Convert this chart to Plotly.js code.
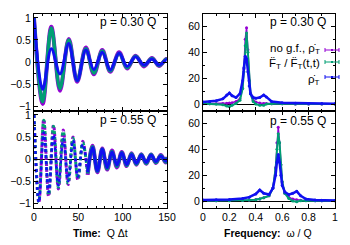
<!DOCTYPE html>
<html><head><meta charset="utf-8">
<script src="https://cdn.plot.ly/plotly-3.0.1.min.js"></script>
<style>html,body{margin:0;padding:0;background:#fff}#c{width:350px;height:245px}</style>
</head><body><div id="c"></div>
<script>
// ---- data: time domain, p = 0.30 Q (extrema) ----
const tA = [0, 9.8, 19.5, 29.3, 39.2, 48.7, 58.5, 67.5, 77, 86, 96, 105, 114.5, 124, 133, 141, 149, 150];
const magA = [1, -0.95, 0.8, -0.65, 0.52, -0.45, 0.33, -0.28, 0.27, -0.22, 0.22, -0.15, 0.14, -0.1, 0.09, -0.09, 0.07, 0.06];
const grnA = [1, -0.9, 0.77, -0.6, 0.5, -0.42, 0.3, -0.25, 0.25, -0.2, 0.2, -0.13, 0.13, -0.08, 0.08, -0.08, 0.06, 0.05];
const bluA = [1, -0.62, 0.3, -0.27, 0.42, -0.42, 0.27, -0.17, 0.22, -0.18, 0.2, -0.1, 0.12, -0.07, 0.07, -0.07, 0.05, 0.04];
// ---- data: time domain, p = 0.55 Q ----
const tB = [0, 5.5, 11, 16.5, 22, 27.5, 33, 38.5, 44, 49.5, 55, 60.5, 66, 71.5, 77, 82.5, 88, 93.5, 99, 104.5, 110, 115.5, 121, 126.5, 132, 137.5, 143, 148.5, 150];
const magB = [1, -1.0, 0.9, -0.85, 0.77, -0.68, 0.66, -0.58, 0.5, -0.48, 0.4, -0.36, 0.3, -0.3, 0.24, -0.24, 0.19, -0.19, 0.16, -0.16, 0.13, -0.13, 0.11, -0.11, 0.1, -0.09, 0.09, -0.08, 0.05];
const grnB = [1, -0.97, 0.88, -0.82, 0.74, -0.64, 0.63, -0.55, 0.47, -0.45, 0.37, -0.33, 0.28, -0.28, 0.22, -0.22, 0.17, -0.17, 0.15, -0.15, 0.12, -0.12, 0.1, -0.1, 0.1, -0.08, 0.08, -0.07, 0.04];
const bluB = [1, -0.98, 0.6, -0.75, 0.55, -0.6, 0.45, -0.5, 0.42, -0.4, 0.33, -0.3, 0.26, -0.27, 0.22, -0.2, 0.16, -0.14, 0.14, -0.13, 0.1, -0.1, 0.09, -0.08, 0.09, -0.06, 0.07, -0.05, 0.03];
// ---- data: spectra, p = 0.30 Q ----
const wA = [0, 0.05, 0.1, 0.15, 0.18, 0.2, 0.22, 0.25, 0.28, 0.3, 0.31, 0.32, 0.33, 0.34, 0.35, 0.36, 0.38, 0.4, 0.43, 0.46, 0.48, 0.52, 0.6, 0.7, 0.8, 0.9, 1.0];
const sMagA = [0.3, 0.3, 0.3, 0.5, 0.6, 0.8, 1, 2, 4, 12, 27, 50, 59, 42, 18, 8, 3, 1.5, 0.8, 0.5, 0.4, 0.3, 0.2, 0.1, 0, 0, 0];
const sGrnA = [0.5, 0.3, 0, -0.5, -1.5, -2, -1, 0.5, 3, 12, 25, 45, 55, 40, 18, 8, 2, 0, -1, -1, 0, 0.3, 0.2, 0.1, 0, 0, 0];
const sBluA = [1.5, 1.8, 2.5, 4, 7, 8.5, 6.5, 5, 8, 18, 28, 37, 35, 25, 14, 8, 5, 4.5, 5, 7, 5.5, 2, 1, 0.7, 0.5, 0.4, 0.3];
// ---- data: spectra, p = 0.55 Q ----
const wB = [0, 0.1, 0.2, 0.3, 0.35, 0.4, 0.43, 0.46, 0.5, 0.53, 0.55, 0.56, 0.57, 0.58, 0.59, 0.6, 0.62, 0.65, 0.68, 0.71, 0.74, 0.78, 0.85, 0.9, 1.0];
const sMagB = [0.3, 0.3, 0.4, 0.6, 0.8, 1.2, 1.6, 2.5, 4, 10, 26, 45, 57, 45, 28, 15, 6, 3, 1.5, 1, 0.7, 0.5, 0.3, 0.2, 0.2];
const sGrnB = [0.3, 0.3, 0.3, 0.5, 0.8, 1, 1.5, 2.5, 4, 10, 25, 40, 52, 45, 28, 15, 6, 2, 0, -0.5, 0.2, 0.3, 0.2, 0.2, 0.2];
const sBluB = [0.8, 1, 1.2, 2, 3, 5.5, 8.5, 6, 5, 10, 20, 30, 36, 30, 20, 12, 7, 5, 6, 7.5, 4, 1.5, 0.8, 0.6, 0.5];
// ---- labels ----
const panelLabels = ["p = 0.30 Q", "p = 0.55 Q"];
const legendNames = ["no g.f., \u03c1\u0307<sub>T</sub>", "F\u0308<sub>T</sub> / F\u0308<sub>T</sub>(t,t)", "\u03c1\u0307<sub>T</sub>"];
const xTitleL = "<b>Time:</b>  Q \u0394t";
const xTitleR = "<b>Frequency:</b>  \u03c9 / Q";

const cMag = "#9400d3", cGrn = "#009e73", cBlu = "#1010f0";
const W = 350, H = 245;
const px = x => x / W, py = y => 1 - y / H;
const SPLIT = 12; // early (scattered-looking) part of p = 0.55 Q series

function tl(x, y, xa, ya, c, w, dash) {
  return {x, y, xaxis: xa, yaxis: ya, mode: "lines", line: {color: c, width: w, shape: "spline", smoothing: 1, dash: dash || "solid"}, showlegend: false, hoverinfo: "skip"};
}
function sp(x, y, xa, ya, c, w, ms) {
  return {x, y, xaxis: xa, yaxis: ya, mode: "lines+markers", line: {color: c, width: w}, marker: {color: c, size: ms}, showlegend: false, hoverinfo: "skip"};
}
const early = a => a.slice(0, SPLIT), late = a => a.slice(SPLIT - 1);
const traces = [
  tl(tA, magA, "x", "y", cMag, 4), tl(tA, grnA, "x", "y", cGrn, 3.5), tl(tA, bluA, "x", "y", cBlu, 3),
  tl(early(tB), early(magB), "x2", "y2", cMag, 3, "dot"), tl(early(tB), early(grnB), "x2", "y2", cGrn, 3, "dot"), tl(early(tB), early(bluB), "x2", "y2", cBlu, 2.5, "dot"),
  tl(late(tB), late(magB), "x2", "y2", cMag, 4), tl(late(tB), late(grnB), "x2", "y2", cGrn, 3.5), tl(late(tB), late(bluB), "x2", "y2", cBlu, 3),
  sp(wA, sMagA, "x3", "y3", cMag, 1.5, 3), sp(wA, sGrnA, "x3", "y3", cGrn, 2, 3), sp(wA, sBluA, "x3", "y3", cBlu, 2.5, 3),
  sp(wB, sMagB, "x4", "y4", cMag, 1.5, 3), sp(wB, sGrnB, "x4", "y4", cGrn, 2, 3), sp(wB, sBluB, "x4", "y4", cBlu, 2.5, 3)
];

const fnt = {family: "Liberation Sans, Arial, sans-serif", size: 11, color: "#000"};
const fntL = {family: "Liberation Sans, Arial, sans-serif", size: 12, color: "#000"};
const fntG = {family: "Liberation Sans, Arial, sans-serif", size: 11.5, color: "#000"};
function ax(dom, range, dtick, mdtick, showlab, anchor, zl) {
  return {domain: dom, range, dtick, tick0: 0, anchor, showticklabels: showlab, ticks: "inside", ticklen: 4, tickwidth: 1, tickcolor: "#000",
    minor: {ticks: "inside", ticklen: 2, dtick: mdtick, tickcolor: "#000"},
    showline: true, linecolor: "#000", linewidth: 1, mirror: "ticks", showgrid: false, zeroline: zl, zerolinecolor: "#000", zerolinewidth: 1,
    tickfont: {family: fnt.family, size: 10.5, color: "#000"}, fixedrange: true};
}
const dxL = [px(34), px(167)], dxR = [px(203), px(335)];
const dyT = [py(110.5), py(13.5)], dyB = [py(207.5), py(110.5)];

const layout = {
  width: W, height: H, margin: {l: 0, r: 0, t: 0, b: 0}, paper_bgcolor: "#fff", plot_bgcolor: "#fff", font: fnt,
  xaxis: ax(dxL, [0, 150], 50, 10, false, "y", false),
  yaxis: ax(dyT, [-1.1, 1.1], 0.5, 0.25, true, "x", true),
  xaxis2: ax(dxL, [0, 150], 50, 10, true, "y2", false),
  yaxis2: ax(dyB, [-1.1, 1.1], 0.5, 0.25, true, "x2", true),
  xaxis3: ax(dxR, [0, 1], 0.2, 0.1, false, "y3", false),
  yaxis3: ax(dyT, [-5, 70], 20, 10, true, "x3", true),
  xaxis4: ax(dxR, [0, 1], 0.2, 0.1, true, "y4", false),
  yaxis4: ax(dyB, [-5, 70], 20, 10, true, "x4", true),
  annotations: [
    {xref: "paper", yref: "paper", x: px(158), y: py(22.5), text: panelLabels[0], showarrow: false, xanchor: "right", yanchor: "middle", font: fntL},
    {xref: "paper", yref: "paper", x: px(158), y: py(120), text: panelLabels[1], showarrow: false, xanchor: "right", yanchor: "middle", font: fntL},
    {xref: "paper", yref: "paper", x: px(328), y: py(22.5), text: panelLabels[0], showarrow: false, xanchor: "right", yanchor: "middle", font: fntL},
    {xref: "paper", yref: "paper", x: px(328), y: py(121), text: panelLabels[1], showarrow: false, xanchor: "right", yanchor: "middle", font: fntL},
    {xref: "paper", yref: "paper", x: px(100), y: py(233), text: xTitleL, showarrow: false, xanchor: "center", yanchor: "middle", font: {family: fnt.family, size: 10.5, color: "#000"}},
    {xref: "paper", yref: "paper", x: px(268), y: py(233), text: xTitleR, showarrow: false, xanchor: "center", yanchor: "middle", font: {family: fnt.family, size: 10.5, color: "#000"}},
    {xref: "paper", yref: "paper", x: px(322), y: py(49.5), text: legendNames[0], showarrow: false, xanchor: "right", yanchor: "middle", font: fntG},
    {xref: "paper", yref: "paper", x: px(322), y: py(64), text: legendNames[1], showarrow: false, xanchor: "right", yanchor: "middle", font: fntG},
    {xref: "paper", yref: "paper", x: px(322), y: py(79.5), text: legendNames[2], showarrow: false, xanchor: "right", yanchor: "middle", font: fntG}
  ],
  shapes: []
};
[[50, cMag], [62, cGrn], [77, cBlu]].forEach(([yy, c]) => {
  const x0 = 325, x1 = 339;
  layout.shapes.push({type: "line", xref: "paper", yref: "paper", x0: px(x0), x1: px(x1), y0: py(yy), y1: py(yy), line: {color: c, width: 1}});
  layout.shapes.push({type: "line", xref: "paper", yref: "paper", x0: px(x0), x1: px(x0), y0: py(yy - 2), y1: py(yy + 2), line: {color: c, width: 1}});
  layout.shapes.push({type: "line", xref: "paper", yref: "paper", x0: px(x1), x1: px(x1), y0: py(yy - 2), y1: py(yy + 2), line: {color: c, width: 1}});
  layout.shapes.push({type: "rect", xref: "paper", yref: "paper", x0: px(331), x1: px(333), y0: py(yy + 1), y1: py(yy - 1), fillcolor: c, line: {width: 0}});
});
Plotly.newPlot("c", traces, layout, {staticPlot: true, displayModeBar: false});
</script></body></html>
